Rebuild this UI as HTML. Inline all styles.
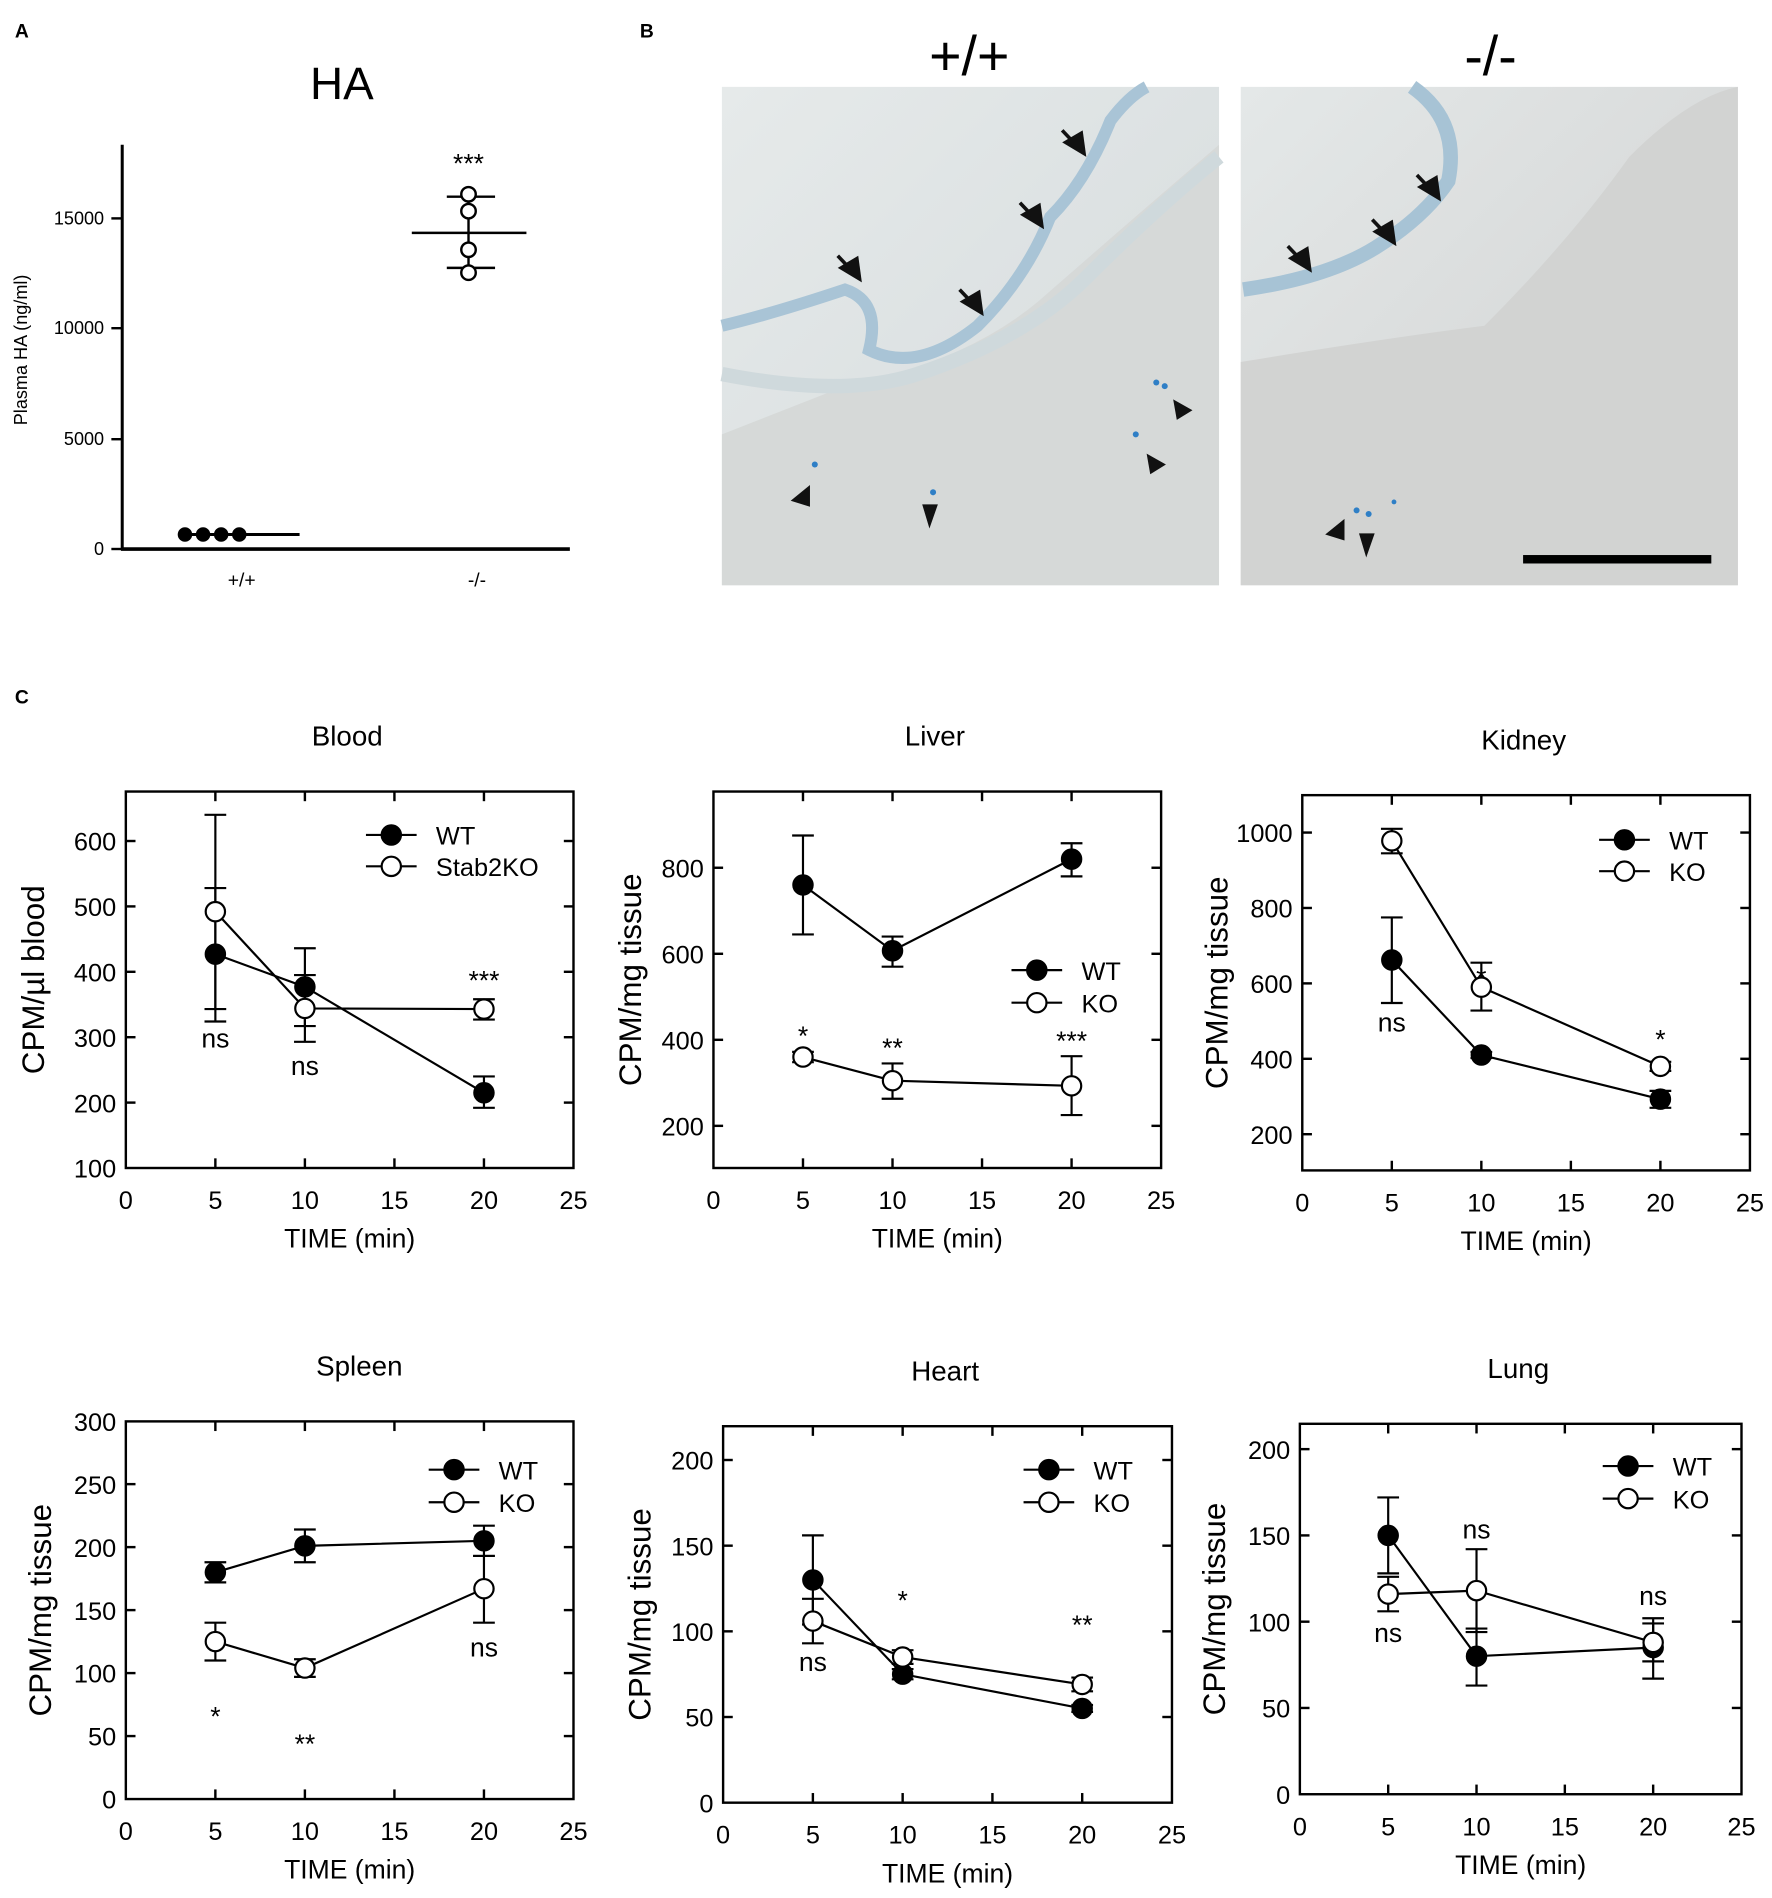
<!DOCTYPE html>
<html><head><meta charset="utf-8">
<style>
html,body{margin:0;padding:0;background:#fff;}
svg{display:block;}
text{font-family:"Liberation Sans",Arial,sans-serif;fill:#000;}
</style></head>
<body>
<svg id="s" width="1772" height="1898" viewBox="0 0 1468 1573" xmlns="http://www.w3.org/2000/svg">
<rect width="1468" height="1573" fill="#fff"/>
<text x="12" y="31" font-size="16" font-weight="bold">A</text>
<text x="283" y="82" font-size="38" text-anchor="middle">HA</text>
<line x1="101" y1="120" x2="101" y2="456" stroke="#000" stroke-width="2.5"/>
<line x1="100" y1="455" x2="472" y2="455" stroke="#000" stroke-width="3"/>
<g font-size="15" text-anchor="end">
<text x="86" y="460">0</text><text x="86" y="369">5000</text><text x="86" y="277">10000</text><text x="86" y="186">15000</text>
</g>
<g stroke="#000" stroke-width="2"><line x1="92" y1="455" x2="101" y2="455"/><line x1="92" y1="364" x2="101" y2="364"/><line x1="92" y1="272" x2="101" y2="272"/><line x1="92" y1="181" x2="101" y2="181"/></g>
<text transform="translate(22,290) rotate(-90)" font-size="15" text-anchor="middle">Plasma HA (ng/ml)</text>
<text x="200" y="486" font-size="16" text-anchor="middle">+/+</text>
<text x="395" y="486" font-size="16" text-anchor="middle">-/-</text>
<line x1="148" y1="443" x2="248" y2="443" stroke="#000" stroke-width="2.5"/>
<g fill="#000"><circle cx="153" cy="443" r="6"/><circle cx="168" cy="443" r="6"/><circle cx="183" cy="443" r="6"/><circle cx="198" cy="443" r="6"/></g>
<g stroke="#000" stroke-width="2" fill="none">
<line x1="388" y1="163" x2="388" y2="222"/><line x1="370" y1="163" x2="410" y2="163"/><line x1="370" y1="222" x2="410" y2="222"/><line x1="341" y1="193" x2="436" y2="193"/>
<circle cx="388" cy="161" r="6" fill="#fff"/><circle cx="388" cy="175" r="6" fill="#fff"/><circle cx="388" cy="207" r="6" fill="#fff"/><circle cx="388" cy="226" r="6" fill="#fff"/>
</g>
<text x="388" y="143" font-size="22" text-anchor="middle">***</text>
<text x="530" y="31" font-size="16" font-weight="bold">B</text>
<text x="803" y="62" font-size="46" text-anchor="middle">+/+</text>
<text x="1235" y="62" font-size="46" text-anchor="middle">-/-</text>
<defs>
<linearGradient id="g1" x1="0" y1="0" x2="1" y2="1"><stop offset="0" stop-color="#e6eaea"/><stop offset="0.5" stop-color="#dde2e3"/><stop offset="1" stop-color="#d8dbdb"/></linearGradient>
<linearGradient id="g2" x1="0" y1="0" x2="1" y2="1"><stop offset="0" stop-color="#e4e8e8"/><stop offset="0.6" stop-color="#d8dada"/><stop offset="1" stop-color="#d3d4d3"/></linearGradient>
</defs>
<rect x="598" y="72" width="412" height="413" fill="url(#g1)"/>
<path d="M598 360 L700 320 Q800 300 860 250 Q940 180 1010 120 L1010 485 L598 485Z" fill="#d6d9d8"/>
<path d="M598 270 Q640 260 700 240 Q730 250 720 290 Q760 310 810 270 Q850 230 870 180 Q900 150 920 100 Q935 80 950 72" stroke="#a9c4d6" stroke-width="10" fill="none"/>
<path d="M598 310 Q700 330 760 310 Q850 280 900 230 Q960 170 1010 130" stroke="#cfd9dc" stroke-width="12" fill="none"/>
<rect x="1028" y="72" width="412" height="413" fill="url(#g2)"/>
<path d="M1028 300 Q1150 280 1230 270 Q1300 200 1350 130 Q1400 80 1440 72 L1440 485 L1028 485Z" fill="#d2d3d2"/>
<path d="M1030 240 Q1100 230 1140 205 Q1180 180 1200 150 Q1210 100 1170 72" stroke="#a7c3d5" stroke-width="12" fill="none"/>
<g fill="#111">
<polygon points="900,130 897,108 880,118"/><polygon points="865,190 862,168 845,178"/><polygon points="714,234 711,212 694,222"/><polygon points="815,262 812,240 795,250"/>
<polygon points="1194,167 1191,145 1174,155"/><polygon points="1157,204 1154,182 1137,192"/><polygon points="1087,226 1084,204 1067,214"/>
<polygon points="988,340 972,331 975,348"/><polygon points="966,385 950,376 953,393"/><polygon points="655,415 671,402 671,420"/><polygon points="770,438 764,418 777,418"/>
<polygon points="1098,443 1114,430 1114,448"/><polygon points="1132,462 1126,442 1139,442"/>
</g>
<g stroke="#111" stroke-width="3"><line x1="898" y1="127" x2="880" y2="108"/><line x1="863" y1="187" x2="845" y2="168"/><line x1="712" y1="231" x2="694" y2="212"/><line x1="813" y1="259" x2="795" y2="240"/><line x1="1192" y1="164" x2="1174" y2="145"/><line x1="1155" y1="201" x2="1137" y2="182"/><line x1="1085" y1="223" x2="1067" y2="204"/></g>
<g fill="#2f7fc6"><circle cx="958" cy="317" r="2.5"/><circle cx="965" cy="320" r="2.5"/><circle cx="941" cy="360" r="2.5"/><circle cx="675" cy="385" r="2.5"/><circle cx="773" cy="408" r="2.5"/><circle cx="1124" cy="423" r="2.5"/><circle cx="1134" cy="426" r="2.5"/><circle cx="1155" cy="416" r="2"/></g>
<rect x="1262" y="460" width="156" height="7" fill="#000"/>
<text x="12" y="583" font-size="16" font-weight="bold">C</text>
<g id="charts"></g>
</svg>
<script>
const NS="http://www.w3.org/2000/svg";
const root=document.getElementById('charts');
function el(t,a,txt){const e=document.createElementNS(NS,t);for(const k in a)e.setAttribute(k,a[k]);if(txt!==undefined)e.textContent=txt;root.appendChild(e);return e;}
function chart(c){
 const X=v=>c.x0+(c.x1-c.x0)*v/25;
 const Y=v=>c.yb-(v-c.vmin)*c.py;
 el('rect',{x:c.x0,y:c.top,width:c.x1-c.x0,height:c.bot-c.top,fill:'none',stroke:'#000','stroke-width':2});
 el('text',{x:(c.x0+c.x1)/2-2+c.tdx,y:c.top-38,'font-size':23,'text-anchor':'middle'},c.title);
 for(let t=0;t<=25;t+=5){const x=X(t);
  if(t>0&&t<25){el('line',{x1:x,y1:c.bot,x2:x,y2:c.bot-8,stroke:'#000','stroke-width':2});el('line',{x1:x,y1:c.top,x2:x,y2:c.top+8,stroke:'#000','stroke-width':2});}
  el('text',{x:x,y:c.bot+34,'font-size':21,'text-anchor':'middle'},t);}
 el('text',{x:(c.x0+c.x1)/2,y:c.bot+66,'font-size':22,'text-anchor':'middle'},'TIME (min)');
 c.yt.forEach(v=>{const y=Y(v);
  if(y>c.top+3&&y<c.bot-3){el('line',{x1:c.x0,y1:y,x2:c.x0+8,y2:y,stroke:'#000','stroke-width':2});el('line',{x1:c.x1,y1:y,x2:c.x1-8,y2:y,stroke:'#000','stroke-width':2});}
  el('text',{x:c.x0-8,y:y+8,'font-size':21,'text-anchor':'end'},v);});
 el('text',{transform:`translate(${c.x0-c.yld},${(c.top+c.bot)/2}) rotate(-90)`,'font-size':26,'text-anchor':'middle'},c.ylab);
 const xs=[5,10,20];
 [['wt','#000'],['ko','#fff']].forEach(([k,f])=>{
  const d=c[k];
  el('polyline',{points:xs.map((x,i)=>X(x)+','+Y(d[i][0])).join(' '),fill:'none',stroke:'#000','stroke-width':1.8});
  xs.forEach((x,i)=>{const [m,hi,lo]=d[i];const px=X(x);
   el('line',{x1:px,y1:Y(hi),x2:px,y2:Y(lo),stroke:'#000','stroke-width':1.8});
   el('line',{x1:px-9,y1:Y(hi),x2:px+9,y2:Y(hi),stroke:'#000','stroke-width':1.8});
   el('line',{x1:px-9,y1:Y(lo),x2:px+9,y2:Y(lo),stroke:'#000','stroke-width':1.8});});
 });
 [['wt','#000'],['ko','#fff']].forEach(([k,f])=>{c[k].forEach((p,i)=>el('circle',{cx:X(xs[i]),cy:Y(p[0]),r:8,fill:f,stroke:'#000','stroke-width':1.8}));});
 c.lab.forEach(([x,y,t])=>el('text',{x:X(x),y:y,'font-size':22,'text-anchor':'middle'},t));
 const L=c.leg;
 [['WT','#000',L[1]],[c.kol||'KO','#fff',L[2]]].forEach(([t,f,y])=>{
  el('line',{x1:L[0],y1:y,x2:L[0]+42,y2:y,stroke:'#000','stroke-width':1.8});
  el('circle',{cx:L[0]+21,cy:y,r:8,fill:f,stroke:'#000','stroke-width':1.8});
  el('text',{x:L[0]+58,y:y+8,'font-size':21},t);});
}
chart({title:'Blood',tdx:0,x0:104,x1:475,top:656,bot:968,yb:968,vmin:100,py:0.542,yt:[100,200,300,400,500,600],ylab:'CPM/µl blood',yld:68,
 wt:[[427,528,324],[377,436,317],[215,240,192]],ko:[[492,640,343],[344,395,293],[343,358,327]],
 lab:[[5,868,'ns'],[10,891,'ns'],[20,820,'***']],leg:[303,692,718],kol:'Stab2KO'});
chart({title:'Liver',tdx:0,x0:591,x1:962,top:656,bot:968,yb:968,vmin:102,py:71.3/200,yt:[200,400,600,800],ylab:'CPM/mg tissue',yld:60,
 wt:[[760,875,645],[607,640,570],[820,857,780]],ko:[[360,372,348],[305,345,263],[293,362,225]],
 lab:[[5,866,'*'],[10,876,'**'],[20,870,'***']],leg:[838,804,831]});
chart({title:'Kidney',tdx:0,x0:1079,x1:1450,top:659,bot:970,yb:940,vmin:200,py:62.5/200,yt:[200,400,600,800,1000],ylab:'CPM/mg tissue',yld:62,
 wt:[[662,775,548],[410,418,402],[293,315,270]],ko:[[978,1010,945],[590,655,528],[380,392,368]],
 lab:[[5,855,'ns'],[10,818,'*'],[20,869,'*']],leg:[1325,696,722]});
chart({title:'Spleen',tdx:10,x0:104,x1:475,top:1178,bot:1491,yb:1491,vmin:0,py:52.2/50,yt:[0,50,100,150,200,250,300],ylab:'CPM/mg tissue',yld:62,
 wt:[[180,188,172],[201,214,188],[205,217,193]],ko:[[125,140,110],[104,111,97],[167,193,140]],
 lab:[[5,1430,'*'],[10,1453,'**'],[20,1373,'ns']],leg:[355,1218,1245]});
chart({title:'Heart',tdx:0,x0:599,x1:971,top:1182,bot:1494,yb:1494,vmin:0,py:71/50,yt:[0,50,100,150,200],ylab:'CPM/mg tissue',yld:60,
 wt:[[130,156,104],[75,78,72],[55,57,53]],ko:[[106,119,93],[85,89,81],[69,73,65]],
 lab:[[5,1385,'ns'],[10,1334,'*'],[20,1354,'**']],leg:[848,1218,1245]});
chart({title:'Lung',tdx:0,x0:1077,x1:1443,top:1180,bot:1487,yb:1487,vmin:0,py:71.5/50,yt:[0,50,100,150,200],ylab:'CPM/mg tissue',yld:62,
 wt:[[150,172,128],[80,96,63],[85,102,67]],ko:[[116,126,106],[118,142,94],[88,99,77]],
 lab:[[5,1361,'ns'],[10,1275,'ns'],[20,1330,'ns']],leg:[1328,1215,1242]});
</script>
</body></html>
